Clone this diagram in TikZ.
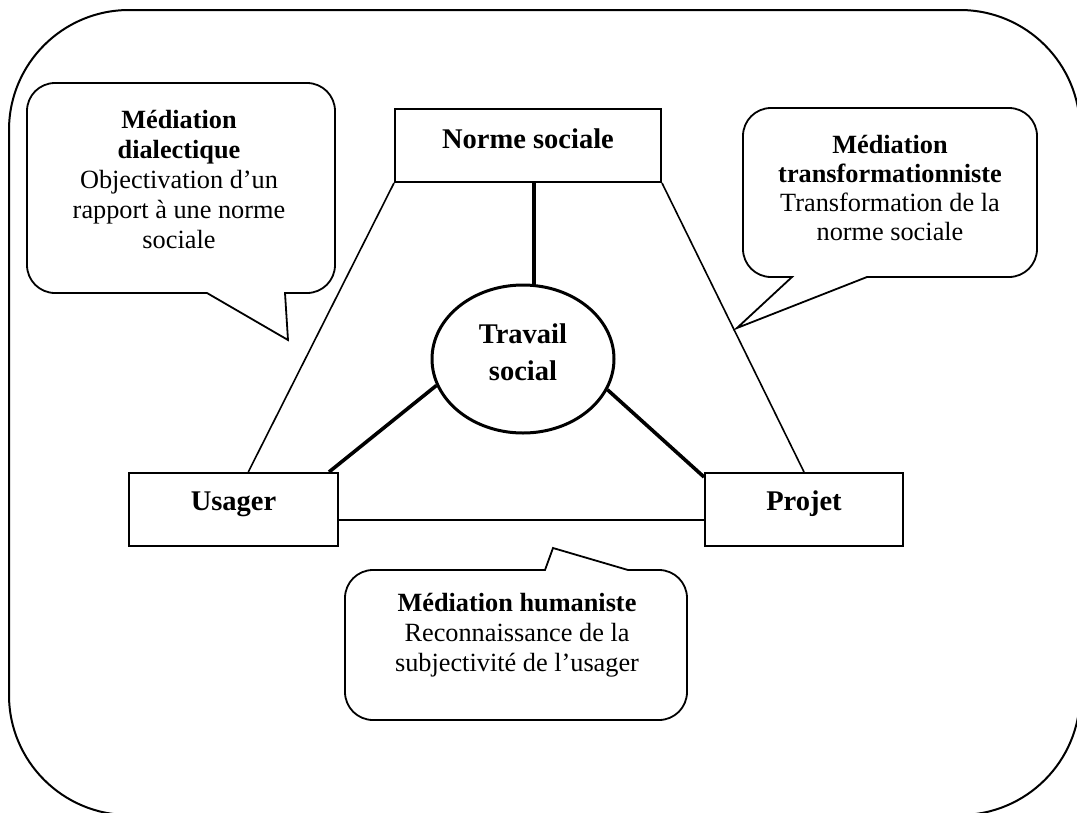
\documentclass[tikz,border=0pt]{standalone}
\usepackage{fontspec}
\setmainfont{Liberation Serif}
\usetikzlibrary{calc,shapes.geometric}
\begin{document}
\begin{tikzpicture}[x=1pt,y=-1pt,
  every node/.style={font=\fontsize{26.3}{30}\selectfont},
  box/.style={draw,line width=2pt,inner sep=0pt,align=center,
    font=\fontsize{28.5}{30}\selectfont\bfseries},
  core/.style={draw,ellipse,line width=3pt,inner sep=0pt,align=center,
    minimum width=182pt,minimum height=148pt,
    font=\fontsize{28.5}{37}\selectfont\bfseries,text height=56pt,text depth=14pt},
  bubble/.style={draw,line width=1.8pt,fill=white,line join=miter},
  bubbletext/.style={inner sep=0pt,align=center,anchor=north},
  thin/.style={line width=1.6pt},
  heavy/.style={line width=3.6pt}]

\useasboundingbox (0,0) rectangle (1077,812);

% outer frame
\draw[line width=2pt,rounded corners=120pt] (9,10) rectangle (1080,815);

% the four poles
\node[box,minimum width=266pt,minimum height=73pt,text height=19pt,text depth=14pt]
  (N) at (528,145.5) {Norme sociale};
\node[box,minimum width=209pt,minimum height=73pt,text height=19pt,text depth=18pt]
  (U) at (233.5,509.5) {Usager};
\node[box,minimum width=198pt,minimum height=73pt,text height=19pt,text depth=18pt]
  (P) at (804,509.5) {Projet};
\node[core] (T) at (523,359) {Travail\\social};

% triangle of mediations
\draw[thin] (N.south west) -- ($(U.north west)!0.57!(U.north east)$);
\draw[thin] (N.south east) -- (P.north);
\draw[thin] ($(U.north east)!0.64!(U.south east)$) -- ($(P.north west)!0.64!(P.south west)$);

% links to the centre
\draw[heavy] ($(N.south)+(6,0)$) -- ($(T.north)+(11,0.5)$);
\draw[heavy] (T.197) -- ($(U.north east)+(-10,0)$);
\draw[heavy] (T.340) -- ($(P.north west)+(0,5)$);

% speech bubble: dialectique
\draw[bubble] (55,83) -- (307,83) arc[start angle=-90,end angle=0,radius=28]
  -- (335,265) arc[start angle=0,end angle=90,radius=28]
  -- (285,293) -- (288,340) -- (207,293)
  -- (55,293) arc[start angle=90,end angle=180,radius=28]
  -- (27,111) arc[start angle=180,end angle=270,radius=28] -- cycle;
\node[bubbletext] (bd) at (179,110)
  {\textbf{Médiation}\\\textbf{dialectique}\\Objectivation d’un\\rapport à une norme\\sociale};

% speech bubble: transformationniste
\draw[bubble] (771,108) -- (1009,108) arc[start angle=-90,end angle=0,radius=28]
  -- (1037,249) arc[start angle=0,end angle=90,radius=28]
  -- (867,277) -- (737,328) -- (792,277)
  -- (771,277) arc[start angle=90,end angle=180,radius=28]
  -- (743,136) arc[start angle=180,end angle=270,radius=28] -- cycle;
\node[bubbletext,font=\fontsize{26.3}{29}\selectfont] (bt) at (890,135)
  {\textbf{Médiation}\\\textbf{transformationniste}\\Transformation de la\\norme sociale};

% speech bubble: humaniste
\draw[bubble] (373,570) -- (545,570) -- (553,548) -- (628,570)
  -- (659,570) arc[start angle=-90,end angle=0,radius=28]
  -- (687,692) arc[start angle=0,end angle=90,radius=28]
  -- (373,720) arc[start angle=90,end angle=180,radius=28]
  -- (345,598) arc[start angle=180,end angle=270,radius=28] -- cycle;
\node[bubbletext] (bh) at (517,593)
  {\textbf{Médiation humaniste}\\Reconnaissance de la\\subjectivité de l’usager};

\end{tikzpicture}
\end{document}
